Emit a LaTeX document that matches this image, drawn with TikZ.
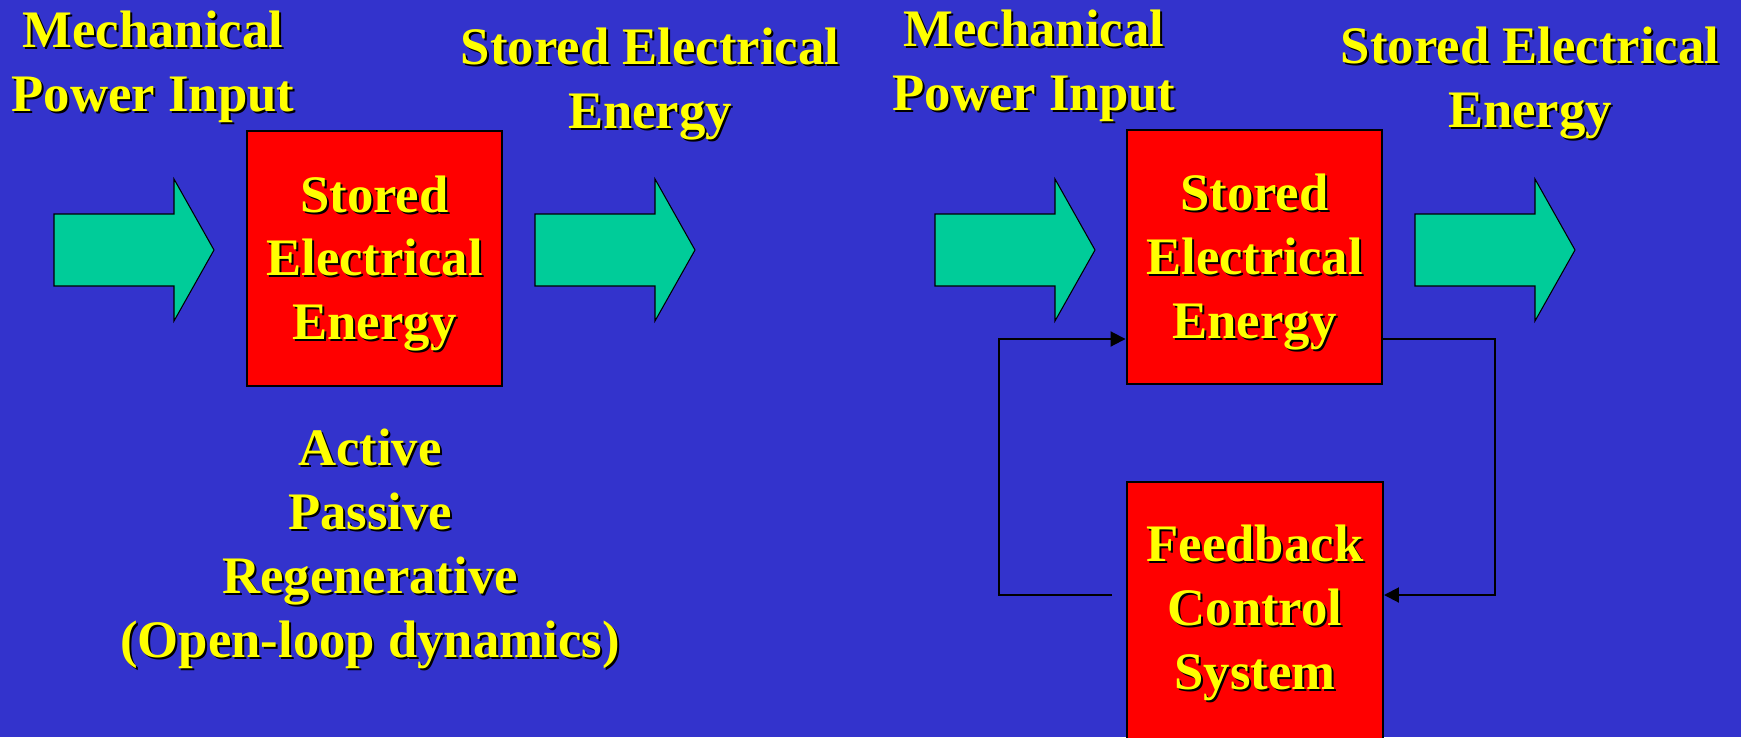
\documentclass[tikz,border=0pt]{standalone}
\usepackage{fontspec}
\setmainfont{Liberation Serif}
\usepackage{xcolor}
\usepackage{tikz}
\usetikzlibrary{arrows.meta,positioning,calc}

\definecolor{slidebg}{RGB}{51,51,204}
\definecolor{boxred}{RGB}{255,0,0}
\definecolor{arrowgreen}{RGB}{0,204,153}
\definecolor{txtyellow}{RGB}{255,255,0}
% yellow text with a small black drop shadow
\newcommand{\sh}[1]{\rlap{\kern0.04cm\raisebox{-0.04cm}{\color{black}#1}}#1}

\begin{document}
\begin{tikzpicture}[x=0.02cm,y=-0.02cm,
  font=\fontsize{30}{36.4}\selectfont\bfseries,text=txtyellow,
  block/.style={draw=black,line width=0.04cm,fill=boxred,minimum width=5.12cm,minimum height=5.1cm,inner sep=0pt},
  lbl/.style={align=center,inner sep=0pt},
  fat/.style={draw=black,line width=0.6pt,fill=arrowgreen},
  loopline/.style={line width=0.04cm,-{Triangle[length=0.3cm,width=0.3cm]}}]
\path[use as bounding box,fill=slidebg] (0,0) rectangle (1741,737);

% fat power arrows
\foreach \ax in {54,535,935,1415}
  \draw[fat] (\ax,214) -- ++(120,0) -- ++(0,-35) -- ++(40,71) -- ++(-40,71) -- ++(0,-35) -- (\ax,286) -- cycle;

% open loop
\node[block] (store1) at (374.5,258.5) {};
\node[lbl] (store1txt) at ($(store1)+(0,6)$) {\sh{Stored}\\\sh{Electrical}\\\sh{Energy}};
\node[lbl] (mech1) at (153,68) {\sh{Mechanical}\\\sh{Power Input}};
\node[lbl] (out1) at (650,85) {\sh{Stored Electrical}\\\sh{Energy}};
\node[lbl] (modes) at (370,550) {\sh{Active}\\\sh{Passive}\\\sh{Regenerative}\\\sh{(Open-loop dynamics)}};

% closed loop
\node[block] (store2) at (1254.5,257) {};
\node[lbl] (store2txt) at ($(store2)+(0,6)$) {\sh{Stored}\\\sh{Electrical}\\\sh{Energy}};
\node[block,minimum height=5.2cm] (fbctl) at (1255,612) {};
\node[lbl] (fbctltxt) at ($(fbctl)+(0,2)$) {\sh{Feedback}\\\sh{Control}\\\sh{System}};
\node[lbl] (mech2) at (1034,67) {\sh{Mechanical}\\\sh{Power Input}};
\node[lbl] (out2) at (1530,84) {\sh{Stored Electrical}\\\sh{Energy}};

\coordinate (fbout) at (1112,595);
\coordinate (loopy) at (0,339);
\draw[loopline] (fbout) -| (999,339) -- (store2.west |- loopy);
\draw[loopline] (store2.east |- loopy) -| (1495,595) -- (fbctl.east |- fbout);
\end{tikzpicture}
\end{document}
